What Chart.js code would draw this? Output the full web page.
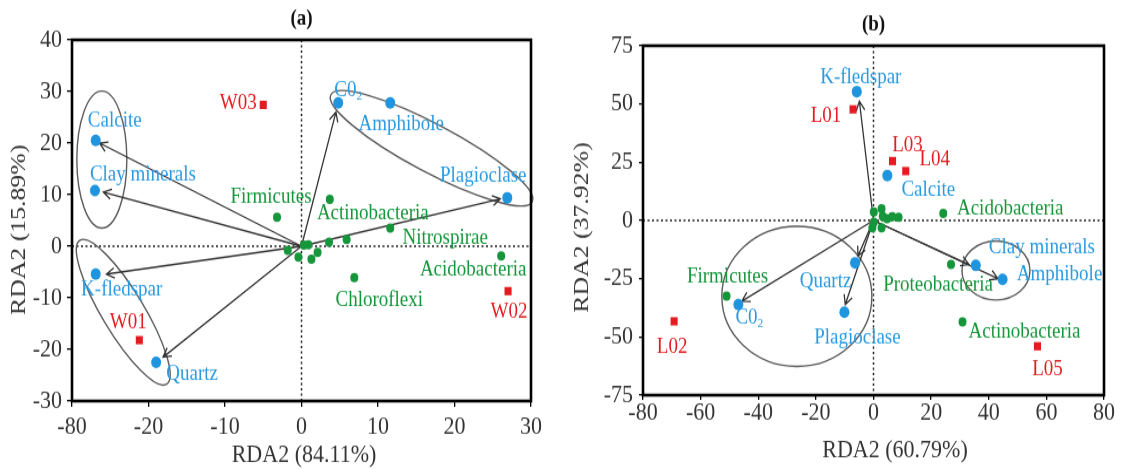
<!DOCTYPE html>
<html>
<head>
<meta charset="utf-8">
<script src="https://cdn.jsdelivr.net/npm/chart.js@4.4.1/dist/chart.umd.min.js"></script>
<style>
  body { margin: 0; background: #fff; }
  #page { position: relative; width: 1123px; height: 469px; overflow: hidden; background: #fff; }
  canvas { position: absolute; top: 0; }
</style>
</head>
<body>
<div id="page">
  <!-- drawn at 400px high and stretched to 469px, like the original figure -->
  <canvas id="chartA" width="560" height="400" style="left:0;width:560px;height:469px"></canvas>
  <canvas id="chartB" width="563" height="400" style="left:560px;width:563px;height:469px"></canvas>
</div>
<script>
// ---------- panel (a) ----------
const xTicksA = ['-80', '-20', '-10', '0', '10', '20', '30']
const yTicksA = ['-30', '-20', '-10', '0', '10', '20', '30', '40']

const envNamesA = ['Calcite', 'Clay minerals', 'K-fledspar', 'Quartz', 'C0₂', 'Amphibole', 'Plagioclase']
const envXA = [-26.9, -27.0, -26.9, -19.0, 4.8, 11.6, 26.9]
const envYA = [20.5, 10.8, -5.4, -22.5, 27.8, 27.8, 9.4]
// arrow tips (null = no arrow)
const arrowXA = [-26.4, -25.9, -25.5, -18.1, 4.5, null, 26.0]
const arrowYA = [20.0, 10.5, -5.4, -21.5, 26.0, null, 9.2]

const siteNamesA = ['W03', 'W01', 'W02']
const siteXA = [-5.0, -21.2, 27.0]
const siteYA = [27.4, -18.2, -8.7]

const taxaNamesA = ['Firmicutes', 'Actinobacteria', 'Nitrospirae', 'Acidobacteria', 'Chloroflexi', '', '', '', '', '', '', '', '']
const taxaXA = [-3.2, 3.7, 11.6, 26.1, 6.9, -1.8, -0.4, 0.9, 1.3, 2.1, 3.6, 5.9, 0.3]
const taxaYA = [5.6, 9.1, 3.5, -1.9, -6.1, -0.8, -2.1, 0.3, -2.5, -1.2, 0.8, 1.3, 0.2]

// ---------- panel (b) ----------
const xTicksB = ['-80', '-60', '-40', '-20', '0', '20', '40', '60', '80']
const yTicksB = ['-75', '-50', '-25', '0', '25', '50', '75']

const envNamesB = ['K-fledspar', 'Calcite', 'Quartz', 'C0₂', 'Plagioclase', 'Clay minerals', 'Amphibole']
const envXB = [-5.8, 4.8, -6.4, -46.9, -10.1, 35.5, 44.8]
const envYB = [55.3, 19.3, -18.2, -36.1, -39.4, -19.3, -25.3]
const arrowXB = [-4.9, null, -5.4, -45.7, -9.8, 33.1, 43.2]
const arrowYB = [51.2, null, -15.3, -34.7, -36.1, -18.9, -25.0]

const siteNamesB = ['L01', 'L03', 'L04', 'L02', 'L05']
const siteXB = [-7.1, 6.6, 11.2, -69.2, 56.9]
const siteYB = [47.7, 25.5, 21.2, -43.3, -54.0]

const taxaNamesB = ['Acidobacteria', 'Firmicutes', 'Proteobacteria', 'Actinobacteria', '', '', '', '', '', '', '', '', '']
const taxaXB = [24.2, -51.0, 26.9, 30.9, 0.1, 2.8, 3.2, 4.7, 6.5, 8.7, 0.1, -0.4, 2.8]
const taxaYB = [3.0, -32.5, -18.9, -43.5, 3.6, 5.0, 1.8, 0.7, 1.6, 1.4, -0.7, -3.1, -3.1]

// ---------- styling ----------
const STRETCH = 469 / 400
const FONT = '"Liberation Serif", "Times New Roman", serif'
const BLUE = '#1f95df'
const GREEN = '#16963b'
const RED = '#e41c21'

const toPoints = (xs, ys) => xs.map((x, i) => ({ x: x, y: ys[i] }))

function drawText(ctx, text, x, y, color, size) {
  ctx.fillStyle = color
  ctx.textBaseline = 'middle'
  if (text.endsWith('₂')) {
    // C0 with a subscript 2
    const base = text.slice(0, -1)
    ctx.font = `${size}px ${FONT}`
    const w = ctx.measureText(base).width
    ctx.font = `${size * 0.6}px ${FONT}`
    const ws = ctx.measureText('2').width
    const x0 = x - (w + ws) / 2
    ctx.textAlign = 'left'
    ctx.font = `${size}px ${FONT}`
    ctx.fillText(base, x0, y)
    ctx.font = `${size * 0.6}px ${FONT}`
    ctx.fillText('2', x0 + w, y + size * 0.3)
  } else {
    ctx.textAlign = 'center'
    ctx.font = `${size}px ${FONT}`
    ctx.fillText(text, x, y)
  }
}

function drawArrow(ctx, x0, y0, x1, y1) {
  const ang = Math.atan2(y1 - y0, x1 - x0)
  const h = 9, spread = 0.5
  ctx.beginPath()
  ctx.moveTo(x0, y0)
  ctx.lineTo(x1, y1)
  ctx.moveTo(x1 - h * Math.cos(ang - spread), y1 - h * Math.sin(ang - spread))
  ctx.lineTo(x1, y1)
  ctx.lineTo(x1 - h * Math.cos(ang + spread), y1 - h * Math.sin(ang + spread))
  ctx.stroke()
}

function panelPlugin(p) {
  return {
    id: 'rda' + p.key,
    beforeDatasetsDraw(chart) {
      const { ctx, chartArea: a } = chart
      const x = chart.scales.x, y = chart.scales.y
      const x0 = x.getPixelForValue(0), y0 = y.getPixelForValue(0)
      ctx.save()
      // dotted zero lines
      ctx.strokeStyle = '#222'
      ctx.lineWidth = 1.5
      ctx.setLineDash([2, 2.5])
      ctx.beginPath()
      ctx.moveTo(x0, a.top); ctx.lineTo(x0, a.bottom)
      ctx.moveTo(a.left, y0); ctx.lineTo(a.right, y0)
      ctx.stroke()
      ctx.setLineDash([])

      // group ellipses (sizes in page pixels, undo the stretch)
      ctx.strokeStyle = '#5c5c5c'
      ctx.lineWidth = 1.4
      p.ellipses.forEach(e => {
        ctx.save()
        ctx.translate(x.getPixelForValue(e.cx), y.getPixelForValue(e.cy))
        ctx.scale(1, 1 / STRETCH)
        ctx.rotate(e.rot * Math.PI / 180)
        ctx.beginPath()
        ctx.ellipse(0, 0, e.a, e.b, 0, 0, Math.PI * 2)
        ctx.restore()
        ctx.stroke()
      })

      // arrows
      ctx.strokeStyle = '#333'
      ctx.lineWidth = 1.3
      p.arrowX.forEach((ax, i) => {
        if (ax === null) return
        drawArrow(ctx, x0, y0, x.getPixelForValue(ax), y.getPixelForValue(p.arrowY[i]))
      })
      ctx.restore()
    },
    afterDatasetsDraw(chart) {
      const { ctx, chartArea: a } = chart
      const x = chart.scales.x, y = chart.scales.y
      ctx.save()
      const label = (names, xs, ys, offs, color) => {
        names.forEach((n, i) => {
          if (!n) return
          drawText(ctx, n, x.getPixelForValue(xs[i]) + offs[i][0], y.getPixelForValue(ys[i]) + offs[i][1], color, 19)
        })
      }
      label(p.envNames, p.envX, p.envY, p.envOff, '#2a9be2')
      label(p.siteNames, p.siteX, p.siteY, p.siteOff, RED)
      label(p.taxaNames, p.taxaX, p.taxaY, p.taxaOff, GREEN)

      // frame
      ctx.strokeStyle = '#000'
      ctx.lineWidth = 2.6
      ctx.strokeRect(a.left, a.top, a.right - a.left, a.bottom - a.top)

      // panel title
      ctx.fillStyle = '#111'
      ctx.textAlign = 'center'
      ctx.textBaseline = 'middle'
      ctx.font = `bold 19px ${FONT}`
      ctx.fillText(p.title, x.getPixelForValue(0), p.titleY)

      // axis titles
      ctx.fillStyle = '#333'
      ctx.font = `22px ${FONT}`
      ctx.fillText(p.xTitle, p.xTitlePos[0], p.xTitlePos[1])
      ctx.translate(p.yTitlePos[0], p.yTitlePos[1])
      ctx.rotate(-Math.PI / 2)
      ctx.fillText(p.yTitle, 0, 0)
      ctx.restore()
    }
  }
}

function makePanel(id, p) {
  const canvas = document.getElementById(id)
  const tickFont = { family: FONT, size: 22, lineHeight: 1 }
  return new Chart(canvas.getContext('2d'), {
    type: 'scatter',
    data: {
      datasets: [
        { data: toPoints(p.taxaX, p.taxaY), backgroundColor: GREEN, borderWidth: 0, pointRadius: 4 },
        { data: toPoints(p.envX, p.envY), backgroundColor: BLUE, borderWidth: 0, pointRadius: 5 },
        { data: toPoints(p.siteX, p.siteY), backgroundColor: RED, borderWidth: 0, pointRadius: 5, pointStyle: 'rect' }
      ]
    },
    options: {
      responsive: false,
      animation: false,
      events: [],
      layout: { padding: p.padding },
      plugins: { legend: { display: false }, tooltip: { enabled: false } },
      scales: {
        x: {
          type: 'linear', min: p.xMin, max: p.xMax,
          ticks: {
            stepSize: p.xStep, autoSkip: false, maxRotation: 0, color: '#333', font: tickFont,
            padding: p.xTickPad,
            callback: (v, i) => p.xTicks[i]
          },
          grid: { drawOnChartArea: false, drawTicks: true, tickLength: p.tickLen, color: '#000', lineWidth: 1.3 },
          border: { display: false },
          afterFit: s => { s.height = p.xAxisHeight }
        },
        y: {
          type: 'linear', min: p.yMin, max: p.yMax,
          ticks: {
            stepSize: p.yStep, autoSkip: false, color: '#333', font: tickFont,
            padding: p.yTickPad,
            callback: (v, i) => p.yTicks[i]
          },
          grid: { drawOnChartArea: false, drawTicks: true, tickLength: p.tickLen, color: '#000', lineWidth: 1.3 },
          border: { display: false },
          afterFit: s => { s.width = p.yAxisWidth }
        }
      }
    },
    plugins: [panelPlugin(p)]
  })
}

makePanel('chartA', {
  key: 'A', title: '(a)', titleY: 16,
  xTitle: 'RDA2 (84.11%)', xTitlePos: [304, 388],
  yTitle: 'RDA2 (15.89%)', yTitlePos: [19, 196],
  xMin: -30, xMax: 30, xStep: 10, xTicks: xTicksA,
  yMin: -30, yMax: 40, yStep: 10, yTicks: yTicksA,
  padding: { top: 34, right: 29, left: 0, bottom: 0 },
  yAxisWidth: 72, xAxisHeight: 58, tickLen: 5, xTickPad: 6, yTickPad: 5,
  envNames: envNamesA, envX: envXA, envY: envYA, arrowX: arrowXA, arrowY: arrowYA,
  siteNames: siteNamesA, siteX: siteXA, siteY: siteYA,
  taxaNames: taxaNamesA, taxaX: taxaXA, taxaY: taxaYA,
  envOff: [[19, -17], [48, -13], [26, 13], [36, 10], [10, -11], [11, 18], [-24, -19]],
  siteOff: [[-25, -1], [-11, -15], [1, 18]],
  taxaOff: [[-6, -17], [43, 12], [55, 8.5], [-28, 12], [25, 19]],
  ellipses: [
    { cx: -26.1, cy: 16.8, a: 25, b: 68.5, rot: 0 },
    { cx: 17.0, cy: 19.0, a: 114, b: 24, rot: 28 },
    { cx: -23.3, cy: -12.8, a: 84, b: 21, rot: 59 }
  ]
})

makePanel('chartB', {
  key: 'B', title: '(b)', titleY: 21,
  xTitle: 'RDA2 (60.79%)', xTitlePos: [335, 384],
  yTitle: 'RDA2 (37.92%)', yTitlePos: [22, 194],
  xMin: -80, xMax: 80, xStep: 20, xTicks: xTicksB,
  yMin: -75, yMax: 75, yStep: 25, yTicks: yTicksB,
  padding: { top: 39, right: 19, left: 0, bottom: 0 },
  yAxisWidth: 83, xAxisHeight: 63, tickLen: 4, xTickPad: 0, yTickPad: 6,
  envNames: envNamesB, envX: envXB, envY: envYB, arrowX: arrowXB, arrowY: arrowYB,
  siteNames: siteNamesB, siteX: siteXB, siteY: siteYB,
  taxaNames: taxaNamesB, taxaX: taxaXB, taxaY: taxaYB,
  envOff: [[4, -12], [41, 12], [-29.5, 16], [11, 11], [13, 21.6], [66, -15.4], [57, -4.3]],
  siteOff: [[-27, 6], [15, -13.4], [29, -10], [-2, 21.6], [10, 20]],
  taxaOff: [[67, -4.3], [1, -17], [-13, 17], [62, 8.3]],
  ellipses: [
    { cx: -26.6, cy: -32.6, a: 75, b: 70, rot: 0 },
    { cx: 42.5, cy: -21.5, a: 34, b: 29.5, rot: 0 }
  ]
})
</script>
</body>
</html>
